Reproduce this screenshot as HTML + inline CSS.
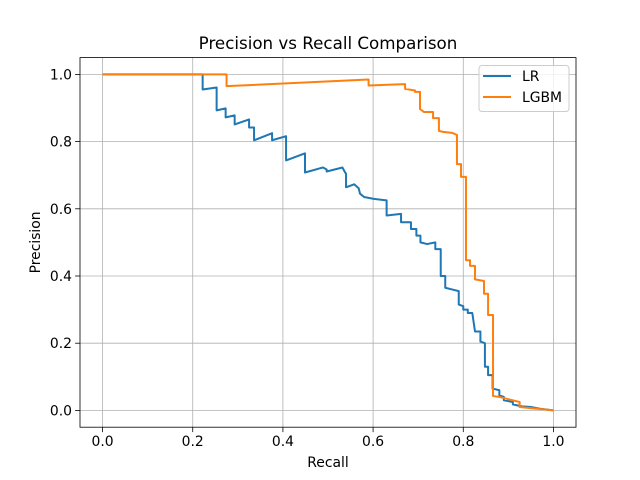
<!DOCTYPE html>
<html><head><meta charset="utf-8"><style>
body{margin:0;background:#fff}
svg{display:block;font-family:"DejaVu Sans","Liberation Sans",sans-serif}
</style></head><body>
<svg id="chart" width="640" height="480" xmlns="http://www.w3.org/2000/svg"></svg>
<script>
const xTicks=[0,0.2,0.4,0.6,0.8,1.0];
const yTicks=[0,0.2,0.4,0.6,0.8,1.0];
const tickLabels=["0.0","0.2","0.4","0.6","0.8","1.0"];
const lrRecall=[0,0.222,0.222,0.253,0.253,0.273,0.273,0.293,0.293,0.325,0.325,0.336,0.336,0.376,0.376,0.407,0.407,0.449,0.449,0.489,0.497,0.497,0.532,0.538,0.540,0.540,0.558,0.568,0.571,0.58,0.60,0.63,0.63,0.662,0.662,0.684,0.684,0.696,0.696,0.705,0.705,0.72,0.738,0.738,0.75,0.75,0.76,0.76,0.775,0.79,0.79,0.80,0.80,0.81,0.81,0.82,0.826,0.838,0.838,0.848,0.848,0.855,0.855,0.865,0.865,0.88,0.88,0.89,0.89,0.91,0.91,0.93,0.95,0.97,1.0];
const lrPrecision=[1,1,0.955,0.961,0.893,0.899,0.872,0.878,0.851,0.866,0.842,0.842,0.804,0.825,0.804,0.816,0.744,0.765,0.708,0.723,0.717,0.711,0.723,0.708,0.705,0.664,0.673,0.661,0.645,0.635,0.63,0.625,0.58,0.585,0.56,0.56,0.54,0.54,0.52,0.52,0.5,0.495,0.5,0.48,0.48,0.4,0.4,0.365,0.36,0.355,0.315,0.31,0.3,0.3,0.29,0.29,0.235,0.235,0.205,0.2,0.13,0.13,0.105,0.105,0.065,0.06,0.045,0.04,0.03,0.025,0.018,0.012,0.01,0.005,0];
const gbRecall=[0,0.275,0.275,0.59,0.59,0.671,0.671,0.693,0.693,0.704,0.704,0.713,0.733,0.733,0.746,0.746,0.755,0.775,0.786,0.786,0.795,0.795,0.806,0.806,0.815,0.815,0.826,0.826,0.846,0.846,0.855,0.855,0.866,0.866,0.88,0.91,0.925,0.925,1.0];
const gbPrecision=[1,1,0.965,0.985,0.967,0.971,0.957,0.952,0.948,0.948,0.897,0.888,0.888,0.87,0.87,0.832,0.829,0.826,0.82,0.733,0.733,0.695,0.695,0.447,0.447,0.43,0.43,0.39,0.385,0.347,0.347,0.284,0.284,0.043,0.04,0.03,0.025,0.01,0];

const svg=document.getElementById('chart');
const NS='http://www.w3.org/2000/svg';
const L=80,R=576,T=57.6,B=427.2;
const sx=v=>L+(v+0.05)/1.1*(R-L);
const sy=v=>B-(v+0.05)/1.1*(B-T);
function el(tag,attrs,text){const e=document.createElementNS(NS,tag);for(const k in attrs)e.setAttribute(k,attrs[k]);if(text!==undefined)e.textContent=text;svg.appendChild(e);return e;}

xTicks.forEach((t,i)=>{
  const g=el('line',{x1:sx(t),x2:sx(t),y1:T,y2:B,stroke:'#b0b0b0','stroke-width':0.8});
  
  
  el('line',{x1:sx(t),x2:sx(t),y1:B,y2:B+4.9,stroke:'#000','stroke-width':0.8});
  const tx=el('text',{x:sx(t),y:B+19,'font-size':13.9,'text-anchor':'middle',fill:'#000'},tickLabels[i]);
  
  
});
yTicks.forEach((t,i)=>{
  const g=el('line',{x1:L,x2:R,y1:sy(t),y2:sy(t),stroke:'#b0b0b0','stroke-width':0.8});
  
  
  el('line',{x1:L-4.9,x2:L,y1:sy(t),y2:sy(t),stroke:'#000','stroke-width':0.8});
  const tx=el('text',{x:L-8,y:sy(t)+5,'font-size':13.9,'text-anchor':'end',fill:'#000'},tickLabels[i]);
  
  
});

function series(xs,ys,color,name){
  const d=xs.map((x,i)=>(i?'L':'M')+sx(x).toFixed(2)+','+sy(ys[i]).toFixed(2)).join('');
  const p=el('path',{d:d,fill:'none',stroke:color,'stroke-width':2,'stroke-linejoin':'round'});
  
  
}
series(lrRecall,lrPrecision,'#1f77b4','lr-line');
series(gbRecall,gbPrecision,'#ff7f0e','lgbm-line');

const fr=el('rect',{x:L,y:T,width:R-L,height:B-T,fill:'none',stroke:'#000','stroke-width':0.8});



const ti=el('text',{x:(L+R)/2,y:49,'font-size':16.7,'text-anchor':'middle',fill:'#000'},'Precision vs Recall Comparison');


const xl=el('text',{x:(L+R)/2,y:467,'font-size':13.9,'text-anchor':'middle',fill:'#000'},'Recall');


const yl=el('text',{x:0,y:0,'font-size':13.9,'text-anchor':'middle',fill:'#000',transform:'translate(40,'+((T+B)/2)+') rotate(-90)'},'Precision');



const lg=el('rect',{x:479,y:65.5,width:90,height:46,rx:3,fill:'#fff','fill-opacity':0.8,stroke:'#ccc','stroke-width':1});


el('line',{x1:483,x2:511,y1:76,y2:76,stroke:'#1f77b4','stroke-width':2});
const l1=el('text',{x:522,y:81,'font-size':13.9,fill:'#000'},'LR');


el('line',{x1:483,x2:511,y1:97,y2:97,stroke:'#ff7f0e','stroke-width':2});
const l2=el('text',{x:522,y:102,'font-size':13.9,fill:'#000'},'LGBM');


</script>
</body></html>
